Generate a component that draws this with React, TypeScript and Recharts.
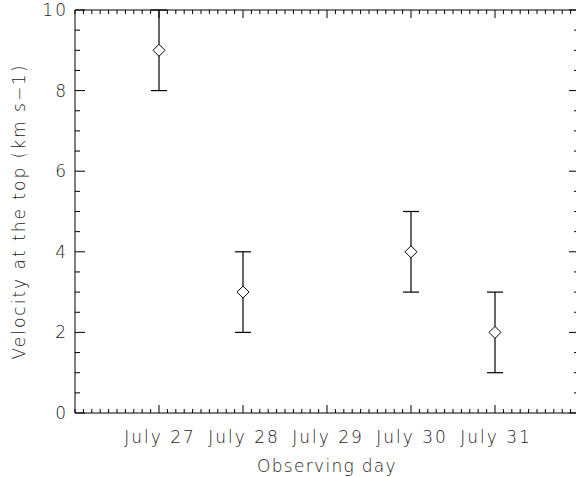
import React from "react";
import {
  ComposedChart,
  Scatter,
  ErrorBar,
  XAxis,
  YAxis,
  Label,
} from "recharts";

const DAYS = [27, 28, 29, 30, 31];
const VELOCITY = [9, 3, null, 4, 2];
const ERRORS = [1, 1, null, 1, 1];
const Y_TICKS = [0, 2, 4, 6, 8, 10];

const points = DAYS.map((day, i) => ({ day, v: VELOCITY[i], err: ERRORS[i] })).filter(
  (p) => p.v !== null
);

// tick positions incl. minors: 10 per day on x, 0.5 on y
const xTicks: number[] = [];
for (let i = 0; i <= 60; i++) xTicks.push(Math.round((26 + i / 10) * 10) / 10);
const yTicks: number[] = [];
for (let i = 0; i <= 20; i++) yTicks.push(i / 2);

const FONT = "DejaVu Sans";
const INK = "#000";
const TEXT = "#222";

const textStyle = {
  fill: TEXT,
  fontSize: 17,
  fontFamily: FONT,
  fontWeight: 200,
  letterSpacing: 1.3,
};
const tickText = { ...textStyle, letterSpacing: 2 };

const Diamond = (props: any) => {
  const { cx, cy } = props;
  const r = 6;
  return (
    <polygon
      points={`${cx},${cy - r} ${cx + r},${cy} ${cx},${cy + r} ${cx - r},${cy}`}
      fill="#fff"
      stroke={INK}
      strokeWidth={1}
    />
  );
};

// x tick: inward line, major ones labelled on the bottom side
const XTick = (props: any) => {
  const { x, y, payload, side } = props;
  const v = payload.value;
  const major = DAYS.includes(v);
  const len = major ? 8 : 4;
  const dir = side === "bottom" ? -1 : 1;
  return (
    <g>
      <line x1={x} x2={x} y1={y} y2={y + dir * len} stroke={INK} strokeWidth={1} />
      {major && side === "bottom" && (
        <text x={x + 1} y={y + 30} textAnchor="middle" style={tickText}>
          {`July ${v}`}
        </text>
      )}
    </g>
  );
};

const YTick = (props: any) => {
  const { x, y, payload, side } = props;
  const v = payload.value;
  const major = Y_TICKS.includes(v);
  const len = major ? 10 : 5;
  const dir = side === "left" ? 1 : -1;
  return (
    <g>
      <line x1={x} x2={x + dir * len} y1={y} y2={y} stroke={INK} strokeWidth={1} />
      {major && side === "left" && (
        <text x={x - 7} y={y + 6} textAnchor="end" style={tickText}>
          {v}
        </text>
      )}
    </g>
  );
};

const Nothing = () => <g />;

export default function App() {
  return (
    <div style={{ position: "absolute", left: 0, top: 0, background: "#fff" }}>
      <ComposedChart
        width={581}
        height={477}
        data={points}
        margin={{ top: 9, right: 1, bottom: 0, left: 0 }}
      >
        <XAxis
          xAxisId="bottom"
          type="number"
          dataKey="day"
          domain={[26, 32]}
          ticks={xTicks}
          interval={0}
          tick={<XTick side="bottom" />}
          tickSize={0}
          tickMargin={0}
          tickLine={false}
          height={64}
          axisLine={{ stroke: INK }}
          orientation="bottom"
        >
          <Label value="Observing day" position="insideBottom" offset={5} style={textStyle} />
        </XAxis>
        <XAxis
          xAxisId="top"
          type="number"
          dataKey="day"
          domain={[26, 32]}
          ticks={xTicks}
          interval={0}
          tick={<XTick side="top" />}
          tickSize={0}
          tickMargin={0}
          tickLine={false}
          height={1}
          axisLine={{ stroke: INK }}
          orientation="top"
        />
        <YAxis
          yAxisId="left"
          type="number"
          dataKey="v"
          domain={[0, 10]}
          ticks={yTicks}
          interval={0}
          tick={<YTick side="left" />}
          tickSize={0}
          tickMargin={0}
          tickLine={false}
          width={75}
          axisLine={{ stroke: INK }}
          orientation="left"
        >
          <Label
            value="Velocity at the top (km s−1)"
            angle={-90}
            position="insideLeft"
            offset={19}
            style={{ ...textStyle, letterSpacing: 2, textAnchor: "middle" }}
          />
        </YAxis>
        <YAxis
          yAxisId="right"
          type="number"
          dataKey="v"
          domain={[0, 10]}
          ticks={yTicks}
          interval={0}
          tick={<YTick side="right" />}
          tickSize={0}
          tickMargin={0}
          tickLine={false}
          width={1}
          axisLine={{ stroke: INK }}
          orientation="right"
        />
        <Scatter
          xAxisId="bottom"
          yAxisId="left"
          dataKey="v"
          shape={<Diamond />}
          isAnimationActive={false}
        >
          <ErrorBar dataKey="err" direction="y" width={8} stroke={INK} strokeWidth={1.2} />
        </Scatter>
        {/* invisible series so the top/right frame axes share the data */}
        <Scatter
          xAxisId="top"
          yAxisId="right"
          dataKey="v"
          shape={<Nothing />}
          isAnimationActive={false}
        />
      </ComposedChart>
    </div>
  );
}
